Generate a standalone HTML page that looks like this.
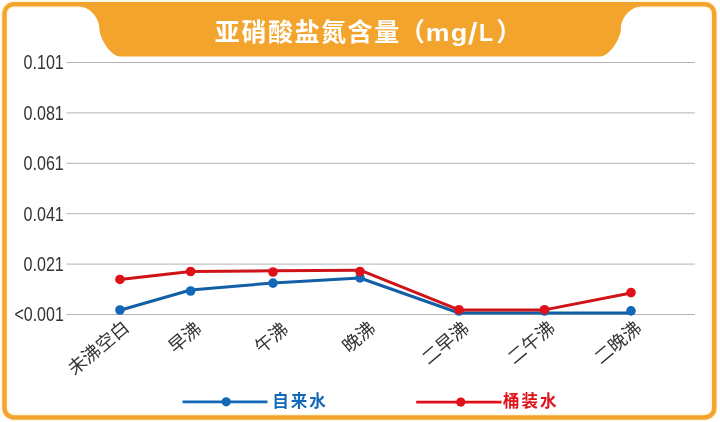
<!DOCTYPE html>
<html lang="zh-CN">
<head>
<meta charset="utf-8">
<title>亚硝酸盐氮含量（mg/L）</title>
<style>
html,body{margin:0;padding:0;background:#fff;}
body{width:720px;height:422px;overflow:hidden;font-family:"Liberation Sans",sans-serif;}
svg{display:block;will-change:transform;}
text{font-family:"Liberation Sans","Noto Sans CJK SC",sans-serif;}
.yl{font-size:20.5px;fill:#333;}
</style>
</head>
<body>
<svg width="720" height="422" viewBox="0 0 720 422">
<rect x="4.5" y="4.25" width="709.75" height="413.2" rx="9.5" ry="9.5" fill="#fff" stroke="#FFF8E6" stroke-width="8.2"/>
<rect x="4.5" y="4.25" width="709.75" height="413.2" rx="9.5" ry="9.5" fill="none" stroke="#F3A42C" stroke-width="4.5"/>
<path d="M78,4 L642.3,4 L640.3,6.5 C631.3,6.5 620.9,18 620.9,28 C620.9,39 609.3,56.4 600.3,56.4 L120,56.4 C111,56.4 99.4,39 99.4,28 C99.4,18 89,6.5 80,6.5 Z" fill="#F3A42C"/>
<text x="214.85" y="41.1" fill="#fff" font-weight="700" font-size="25" textLength="184.3" lengthAdjust="spacing">亚硝酸盐氮含量</text>
<text x="399.55" y="41.1" fill="#fff" font-weight="700" font-size="25.4">（</text>
<g id="mgl" fill="#fff" font-weight="700" font-size="24.5"><text transform="translate(425.64 40.5) scale(1.088 0.97)">m</text><text transform="translate(450.69 40.5) scale(1.104 0.97)">g</text><text transform="translate(468.1 44.4) skewX(-4.2) scale(1.15 1.244)">/</text><text transform="translate(478.9 40.5) scale(0.94 1.0)">L</text></g>
<text x="496.35" y="41.1" fill="#fff" font-weight="700" font-size="25.4">）</text>
<line x1="66.5" x2="694.8" y1="62.50" y2="62.50" stroke="#B4B4B4" stroke-width="1"/>
<line x1="66.5" x2="694.8" y1="112.90" y2="112.90" stroke="#B4B4B4" stroke-width="1"/>
<line x1="66.5" x2="694.8" y1="163.30" y2="163.30" stroke="#B4B4B4" stroke-width="1"/>
<line x1="66.5" x2="694.8" y1="213.70" y2="213.70" stroke="#B4B4B4" stroke-width="1"/>
<line x1="66.5" x2="694.8" y1="264.10" y2="264.10" stroke="#B4B4B4" stroke-width="1"/>
<line x1="66.5" x2="694.8" y1="314.50" y2="314.50" stroke="#B4B4B4" stroke-width="1"/>
<text class="yl" x="63.8" y="69.40" text-anchor="end" textLength="40.3" lengthAdjust="spacingAndGlyphs">0.101</text>
<text class="yl" x="63.8" y="119.80" text-anchor="end" textLength="40.3" lengthAdjust="spacingAndGlyphs">0.081</text>
<text class="yl" x="63.8" y="170.20" text-anchor="end" textLength="40.3" lengthAdjust="spacingAndGlyphs">0.061</text>
<text class="yl" x="63.8" y="220.60" text-anchor="end" textLength="40.3" lengthAdjust="spacingAndGlyphs">0.041</text>
<text class="yl" x="63.8" y="271.00" text-anchor="end" textLength="40.3" lengthAdjust="spacingAndGlyphs">0.021</text>
<text class="yl" x="63.8" y="321.40" text-anchor="end" textLength="49.4" lengthAdjust="spacingAndGlyphs">&lt;0.001</text>
<polyline points="119.95,310.2 190.6,290.0 273.0,283.0 360.0,278.0 459.0,313.0 544.5,313.0 631.0,313.0" fill="none" stroke="#135FA6" stroke-width="3" stroke-linejoin="round" stroke-linecap="round"/><circle cx="119.95" cy="310.0" r="4.8" fill="#1268B7"/><circle cx="190.6" cy="291.0" r="4.8" fill="#1268B7"/><circle cx="273.0" cy="283.1" r="4.8" fill="#1268B7"/><circle cx="360.0" cy="277.9" r="4.8" fill="#1268B7"/><circle cx="459.0" cy="311.0" r="4.8" fill="#1268B7"/><circle cx="544.5" cy="311.0" r="4.8" fill="#1268B7"/><circle cx="631.0" cy="310.9" r="4.8" fill="#1268B7"/>
<polyline points="119.95,279.6 190.6,271.4 273.0,270.8 360.0,270.2 459.0,309.9 544.5,309.9 631.0,293.0" fill="none" stroke="#CE1418" stroke-width="3" stroke-linejoin="round" stroke-linecap="round"/><circle cx="119.95" cy="279.45" r="4.8" fill="#E01018"/><circle cx="190.6" cy="271.5" r="4.8" fill="#E01018"/><circle cx="273.0" cy="272.0" r="4.8" fill="#E01018"/><circle cx="360.0" cy="271.5" r="4.8" fill="#E01018"/><circle cx="459.0" cy="309.7" r="4.8" fill="#E01018"/><circle cx="544.5" cy="309.7" r="4.8" fill="#E01018"/><circle cx="631.0" cy="292.6" r="4.8" fill="#E01018"/>
<text transform="translate(130.35 329.30) rotate(-40)" text-anchor="end" font-size="18.2" fill="#333">未沸空白</text>
<text transform="translate(202.80 330.50) rotate(-40)" text-anchor="end" font-size="18.2" fill="#333">早沸</text>
<text transform="translate(289.40 331.00) rotate(-40)" text-anchor="end" font-size="18.2" fill="#333">午沸</text>
<text transform="translate(376.80 330.00) rotate(-40)" text-anchor="end" font-size="18.2" fill="#333">晚沸</text>
<text transform="translate(470.20 330.40) rotate(-40)" text-anchor="end" font-size="18.2" fill="#333">二早沸</text>
<text transform="translate(556.10 329.90) rotate(-40)" text-anchor="end" font-size="18.2" fill="#333">二午沸</text>
<text transform="translate(642.70 329.90) rotate(-40)" text-anchor="end" font-size="18.2" fill="#333">二晚沸</text>
<line x1="182.5" x2="267.5" y1="401.8" y2="401.8" stroke="#1268B7" stroke-width="2.8"/><circle cx="226.2" cy="401.8" r="4.6" fill="#1268B7"/>
<text x="272.3" y="406.9" fill="#1268B7" font-weight="700" font-size="16.5" textLength="53.5" lengthAdjust="spacing">自来水</text>
<line x1="416.2" x2="501.5" y1="402.1" y2="402.1" stroke="#E01018" stroke-width="2.8"/><circle cx="460.8" cy="402.1" r="4.6" fill="#E01018"/>
<text x="502.9" y="406.9" fill="#E01018" font-weight="700" font-size="16.5" textLength="53.5" lengthAdjust="spacing">桶装水</text>
</svg>
</body>
</html>
